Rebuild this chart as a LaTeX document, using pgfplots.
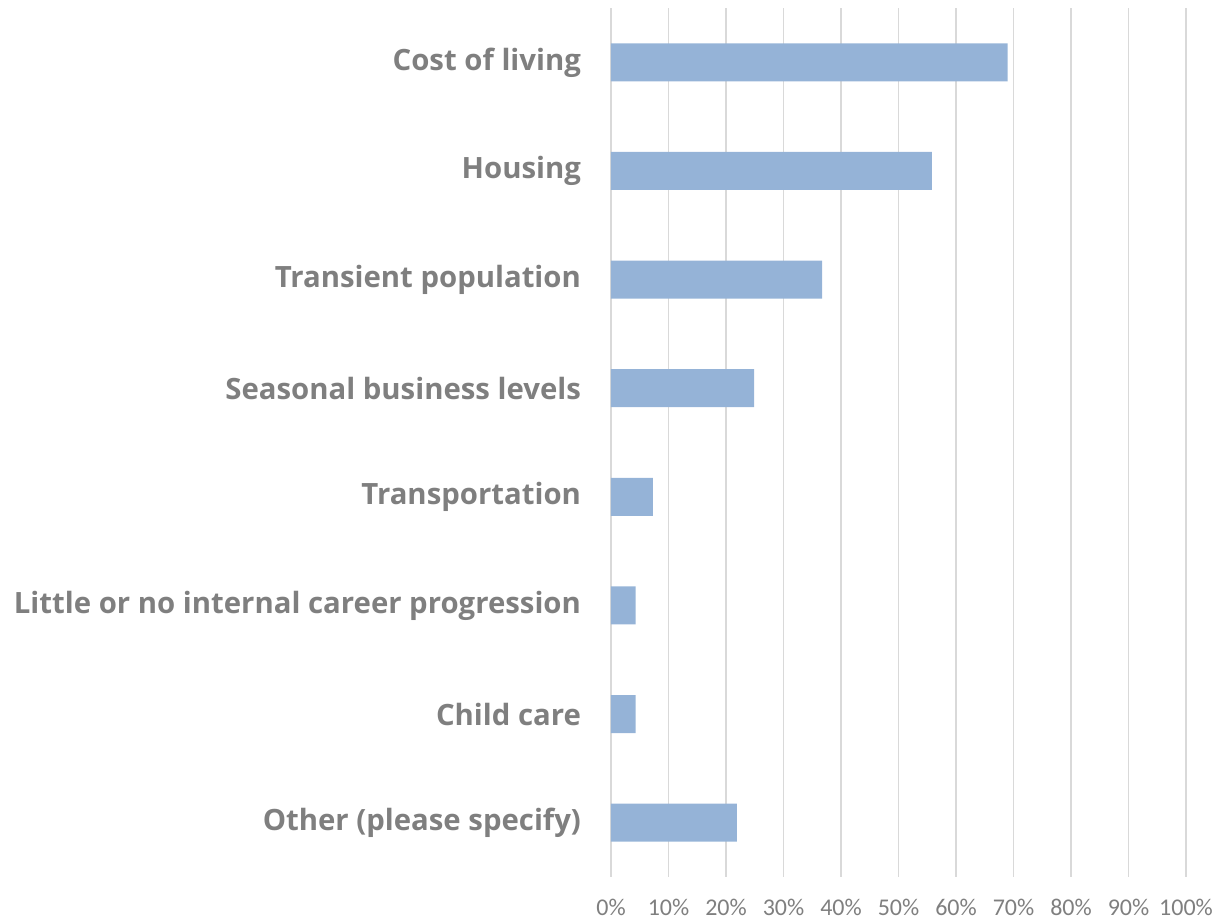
\documentclass[border=0pt]{standalone}
\usepackage{pgfplots}
\pgfplotsset{compat=1.18}
\usepackage{fontspec}
\setmainfont{Open Sans}
\newfontfamily\catfont{Open Sans}
\newfontfamily\tickfont{Carlito}
\definecolor{barblue}{HTML}{95B3D7}
\definecolor{labgray}{HTML}{7F7F7F}
\definecolor{gridgray}{HTML}{D9D9D9}
\begin{document}
\begin{tikzpicture}
\path (-458.25pt,-32.25pt) rectangle (456.75pt,657.75pt);
\begin{axis}[
  at={(0pt,0pt)}, anchor=south west,
  scale only axis,
  width=431.25pt, height=651.75pt,
  xbar, bar width=0.35,
  xmin=0, xmax=100,
  ymin=-0.5, ymax=7.5,
  y dir=reverse,
  axis line style={draw=none},
  xmajorgrids,
  grid style={gridgray, line width=0.9pt},
  xtick={0,10,...,100},
  /pgf/number format/assume math mode=true,
  xticklabel={\pgfmathprintnumber{\tick}\%},
  xticklabel style={font=\tickfont\fontsize{18pt}{18pt}\selectfont, text=labgray, yshift=-13pt},
  ytick={0,...,7},
  yticklabels={Cost of living,Housing,Transient population,Seasonal business levels,Transportation,Little or no internal career progression,Child care,Other (please specify)},
  yticklabel style={font=\catfont\bfseries\fontsize{22pt}{22pt}\selectfont, text=labgray, anchor=east, xshift=-19pt},
  major tick length=0pt,
  tick style={draw=none},
  clip=false,
]
\addplot[fill=barblue, draw=none] coordinates {
  (69.0,0) (55.8,1) (36.7,2) (24.9,3) (7.3,4) (4.3,5) (4.3,6) (21.9,7)
};
\end{axis}
\end{tikzpicture}
\end{document}
